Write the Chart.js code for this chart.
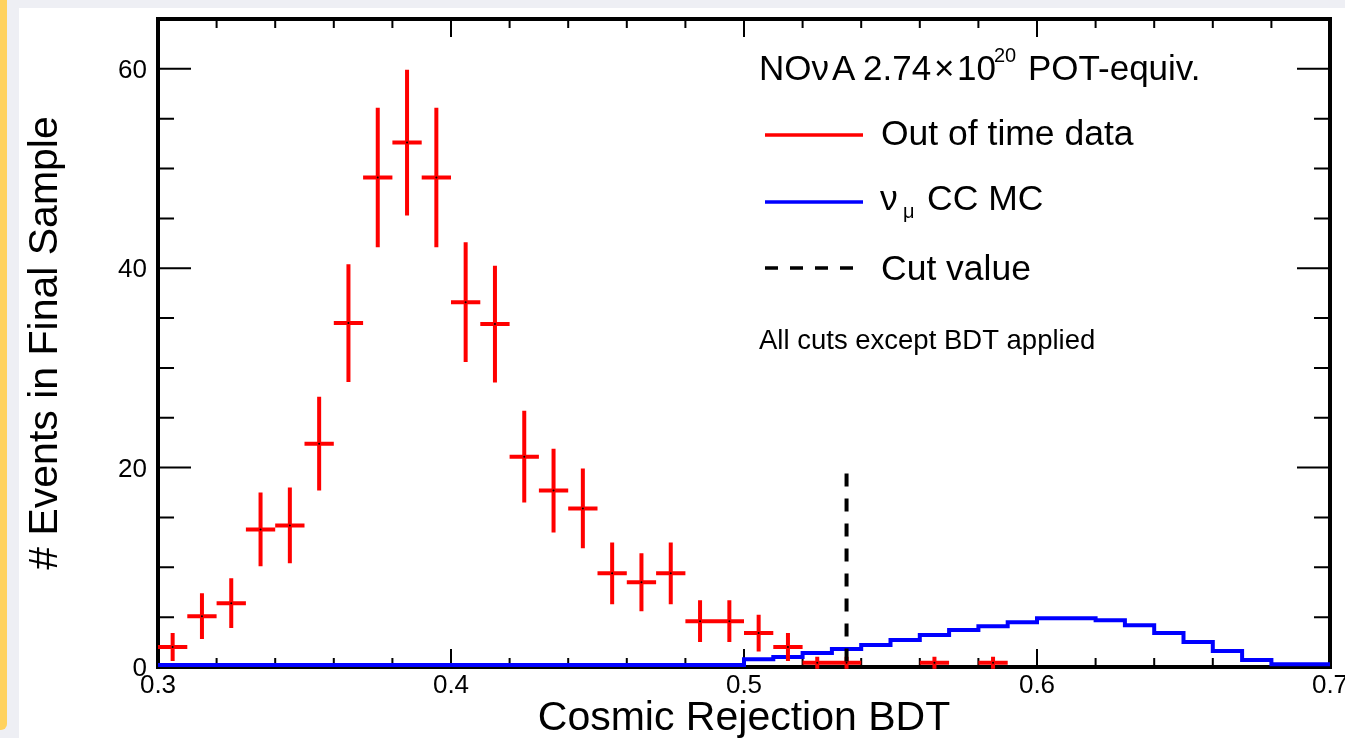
<!DOCTYPE html>
<html>
<head>
<meta charset="utf-8">
<title>Cosmic Rejection BDT</title>
<script src="https://cdn.jsdelivr.net/npm/chart.js@4.4.1/dist/chart.umd.min.js"></script>
<style>
  html, body { margin: 0; padding: 0; }
  body { width: 1345px; height: 738px; background: #eeeff4; position: relative; overflow: hidden; }
  #stripe { position: absolute; left: 0; top: 0; width: 7px; height: 730px; background: #ffd25e; border-bottom-right-radius: 6px; }
  #panel { position: absolute; left: 19px; top: 8px; right: 0; bottom: 0; background: #fff; }
  #chart { position: absolute; left: 0; top: 0; }
</style>
</head>
<body>
<div id="stripe"></div>
<div id="panel"></div>
<canvas id="chart" width="1345" height="738"></canvas>
<script>
// out of time data: bin centres, counts and error bars
const outOfTimeX = [0.305, 0.315, 0.325, 0.335, 0.345, 0.355, 0.365, 0.375, 0.385, 0.395,
                    0.405, 0.415, 0.425, 0.435, 0.445, 0.455, 0.465, 0.475, 0.485, 0.495,
                    0.505, 0.515, 0.525, 0.535, 0.565, 0.585];
const outOfTimeCounts = [2.0, 5.1, 6.4, 13.8, 14.2, 22.4, 34.5, 49.1, 52.6, 49.1,
                         36.6, 34.4, 21.1, 17.7, 15.9, 9.4, 8.5, 9.4, 4.6, 4.6,
                         3.4, 2.0, 0.43, 0.43, 0.43, 0.43];
const outOfTimeErr = [1.4, 2.3, 2.5, 3.7, 3.8, 4.7, 5.9, 7.0, 7.3, 7.0,
                      6.0, 5.85, 4.6, 4.2, 4.0, 3.1, 2.9, 3.1, 2.1, 2.1,
                      1.85, 1.4, 0.6, 0.6, 0.6, 0.6];
const binHalfWidth = 0.005;

// numu CC MC histogram: low bin edges and contents
const mcBinLow = [0.30, 0.31, 0.32, 0.33, 0.34, 0.35, 0.36, 0.37, 0.38, 0.39,
                  0.40, 0.41, 0.42, 0.43, 0.44, 0.45, 0.46, 0.47, 0.48, 0.49,
                  0.50, 0.51, 0.52, 0.53, 0.54, 0.55, 0.56, 0.57, 0.58, 0.59,
                  0.60, 0.61, 0.62, 0.63, 0.64, 0.65, 0.66, 0.67, 0.68, 0.69];
const mcCounts = [0.2, 0.2, 0.2, 0.2, 0.2, 0.2, 0.2, 0.2, 0.2, 0.2,
                  0.2, 0.2, 0.2, 0.2, 0.2, 0.2, 0.2, 0.2, 0.2, 0.2,
                  0.77, 1.0, 1.4, 1.8, 2.2, 2.7, 3.2, 3.7, 4.1, 4.5,
                  4.9, 4.9, 4.7, 4.2, 3.4, 2.5, 1.6, 0.7, 0.27, 0.27];
const mcUpperEdge = 0.70;

// cut value
const cutValue = 0.535;
const cutHeight = 19.4;

// axes
const xRange = [0.3, 0.7];
const yRange = [0, 65];
const xTickValues = [0.3, 0.4, 0.5, 0.6, 0.7];
const xTickLabels = ['0.3', '0.4', '0.5', '0.6', '0.7'];
const yTickValues = [0, 20, 40, 60];
const yTickLabels = ['0', '20', '40', '60'];
const xMinorStep = 0.02;
const yMinorStep = 5;

const FONT = '"Liberation Sans", Arial, Helvetica, sans-serif';

// error bars as broken line segments
const vertBars = [];
const horizBars = [];
outOfTimeX.forEach((x, i) => {
  const y = outOfTimeCounts[i], e = outOfTimeErr[i];
  vertBars.push({x: x, y: y - e}, {x: x, y: y + e}, {x: x, y: null});
  horizBars.push({x: x - binHalfWidth, y: y}, {x: x + binHalfWidth, y: y}, {x: x, y: null});
});
const centres = outOfTimeX.map((x, i) => ({x: x, y: outOfTimeCounts[i]}));

const mcPoints = mcBinLow.map((x, i) => ({x: x, y: mcCounts[i]}));
mcPoints.push({x: mcUpperEdge, y: mcCounts[mcCounts.length - 1]});

const cutPoints = [{x: cutValue, y: cutHeight}, {x: cutValue, y: 0}];

// frame, inward ticks, labels and titles in ROOT style
const rootFrame = {
  id: 'rootFrame',
  beforeDatasetsDraw(chart) {
    const {ctx, chartArea: a, scales: {x, y}} = chart;
    ctx.save();
    ctx.strokeStyle = '#000';
    ctx.lineWidth = 2;
    ctx.beginPath();
    for (let v = xRange[0]; v <= xRange[1] + 1e-9; v += xMinorStep) {
      const px = x.getPixelForValue(v);
      ctx.moveTo(px, a.bottom); ctx.lineTo(px, a.bottom - 9);
      ctx.moveTo(px, a.top); ctx.lineTo(px, a.top + 9);
    }
    xTickValues.forEach(v => {
      const px = x.getPixelForValue(v);
      ctx.moveTo(px, a.bottom); ctx.lineTo(px, a.bottom - 18);
      ctx.moveTo(px, a.top); ctx.lineTo(px, a.top + 18);
    });
    for (let v = yRange[0]; v <= yRange[1] + 1e-9; v += yMinorStep) {
      const py = y.getPixelForValue(v);
      ctx.moveTo(a.left, py); ctx.lineTo(a.left + 16, py);
      ctx.moveTo(a.right, py); ctx.lineTo(a.right - 16, py);
    }
    yTickValues.forEach(v => {
      const py = y.getPixelForValue(v);
      ctx.moveTo(a.left, py); ctx.lineTo(a.left + 33, py);
      ctx.moveTo(a.right, py); ctx.lineTo(a.right - 33, py);
    });
    ctx.stroke();

    ctx.lineWidth = 4;
    ctx.strokeRect(a.left, a.top, a.right - a.left, a.bottom - a.top);

    // tick labels
    ctx.fillStyle = '#000';
    ctx.font = '26px ' + FONT;
    ctx.textAlign = 'center';
    ctx.textBaseline = 'alphabetic';
    xTickValues.forEach((v, i) => ctx.fillText(xTickLabels[i], x.getPixelForValue(v), a.bottom + 26));
    ctx.textAlign = 'right';
    ctx.textBaseline = 'middle';
    yTickValues.forEach((v, i) => ctx.fillText(yTickLabels[i], a.left - 11, y.getPixelForValue(v) + 2));

    // axis titles
    ctx.font = '41px ' + FONT;
    ctx.textAlign = 'center';
    ctx.textBaseline = 'alphabetic';
    ctx.fillText('Cosmic Rejection BDT', (a.left + a.right) / 2, 730);
    ctx.save();
    ctx.translate(57, (a.top + a.bottom) / 2);
    ctx.rotate(-Math.PI / 2);
    ctx.fillText('# Events in Final Sample', 0, 0);
    ctx.restore();
    ctx.restore();
  },
  afterDatasetsDraw(chart) {
    const {ctx} = chart;
    ctx.save();
    ctx.fillStyle = '#000';
    ctx.textAlign = 'left';
    ctx.textBaseline = 'alphabetic';

    // header
    ctx.font = '35px ' + FONT;
    ctx.fillText('NOν', 759, 80);
    ctx.fillText('A', 832, 80);
    ctx.fillText('2.74', 863, 80);
    ctx.fillText('×', 934, 80);
    ctx.fillText('10', 957, 80);
    ctx.font = '20px ' + FONT;
    ctx.fillText('20', 994, 62);
    ctx.font = '35px ' + FONT;
    ctx.fillText('POT-equiv.', 1028, 80);

    // legend entries
    ctx.lineWidth = 3.5;
    ctx.strokeStyle = '#ff0000';
    ctx.beginPath(); ctx.moveTo(765, 135); ctx.lineTo(863, 135); ctx.stroke();
    ctx.font = '35.5px ' + FONT;
    ctx.fillText('Out of time data', 881, 145);

    ctx.strokeStyle = '#0000ff';
    ctx.beginPath(); ctx.moveTo(765, 202); ctx.lineTo(863, 202); ctx.stroke();
    ctx.fillText('ν', 880, 210);
    ctx.font = '20px ' + FONT;
    ctx.fillText('μ', 903, 218);
    ctx.font = '35.5px ' + FONT;
    ctx.fillText('CC MC', 927, 210);

    ctx.strokeStyle = '#000';
    ctx.setLineDash([13, 12]);
    ctx.beginPath(); ctx.moveTo(765, 268); ctx.lineTo(856, 268); ctx.stroke();
    ctx.setLineDash([]);
    ctx.fillText('Cut value', 881, 280);

    ctx.font = '27.5px ' + FONT;
    ctx.fillText('All cuts except BDT applied', 759, 349);
    ctx.restore();
  }
};

new Chart(document.getElementById('chart'), {
  type: 'line',
  data: {
    datasets: [
      {
        label: 'νμ CC MC',
        data: mcPoints,
        stepped: 'before',
        borderColor: '#0000ff',
        borderWidth: 4,
        pointRadius: 0,
        fill: false,
        clip: 6,
        order: 3,
      },
      {
        label: 'Out of time data',
        data: vertBars,
        borderColor: '#ff0000',
        borderWidth: 4,
        borderCapStyle: 'butt',
        pointRadius: 0,
        spanGaps: false,
        fill: false,
        clip: 6,
        order: 2,
      },
      {
        label: 'Out of time data (bin width)',
        data: horizBars,
        borderColor: '#ff0000',
        borderWidth: 4,
        borderCapStyle: 'butt',
        pointRadius: 0,
        spanGaps: false,
        fill: false,
        clip: 6,
        order: 2,
      },
      {
        label: 'centres',
        data: centres,
        showLine: false,
        pointRadius: 1,
        pointBackgroundColor: '#000',
        pointBorderWidth: 0,
        clip: 6,
        order: 1,
      },
      {
        label: 'Cut value',
        data: cutPoints,
        borderColor: '#000',
        borderWidth: 4,
        borderDash: [13, 12],
        borderCapStyle: 'butt',
        pointRadius: 0,
        fill: false,
        clip: 6,
        order: 0,
      },
    ]
  },
  options: {
    responsive: false,
    animation: false,
    events: [],
    layout: { padding: { left: 158, top: 19, right: 15, bottom: 71 } },
    scales: {
      x: { type: 'linear', min: xRange[0], max: xRange[1], display: false },
      y: { type: 'linear', min: yRange[0], max: yRange[1], display: false },
    },
    plugins: {
      legend: { display: false },
      tooltip: { enabled: false },
    }
  },
  plugins: [rootFrame]
});
</script>
</body>
</html>
